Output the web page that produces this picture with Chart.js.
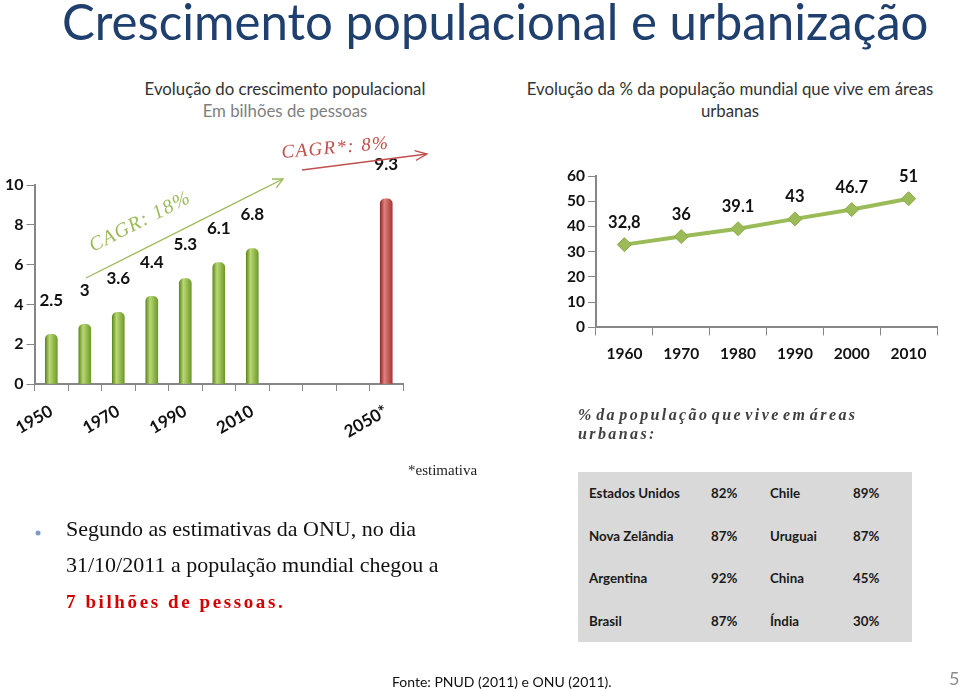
<!DOCTYPE html>
<html>
<head>
<meta charset="utf-8">
<script src="https://cdn.jsdelivr.net/npm/chart.js@4.4.1/dist/chart.umd.min.js"></script>
<style>
    body { margin: 0; width: 960px; height: 689px; background: #fff; position: relative; overflow: hidden; font-family: Lato, "Open Sans", sans-serif; }
    .abs { position: absolute; white-space: nowrap; }
    #title { left: 62px; top: -9px; font-size: 50px; color: #1f3f6e; transform-origin: 0 0; }
    .sub { font-size: 16.8px; color: #333; text-align: center; line-height: 22px; }
    .serif { font-family: "Liberation Serif", "Times New Roman", serif; }
    #urbNote { left: 578px; top: 405px; font-size: 16px; font-weight: bold; font-style: italic; letter-spacing: 2.4px; word-spacing: -4px; color: #404040; line-height: 19px; }
    #tbl { left: 578px; top: 472px; width: 334px; height: 170px; background: #d9d9d9; border-collapse: collapse; font-size: 13.3px; font-weight: bold; color: #1a1a1a; }
    #tbl td { padding: 0; height: 42.5px; }
    #bullet { left: 66px; top: 511px; font-size: 22px; line-height: 36px; color: #111; }
    #bullet b { color: #d40000; letter-spacing: 2.6px; font-size: 19px; }
    canvas { position: absolute; }
</style>
</head>
<body>
<div id="title" class="abs">Crescimento populacional e urbanização</div>

<div class="abs sub" style="left:110px; top:78px; width:350px;">Evolução do crescimento populacional<br><span style="color:#7f7f7f">Em bilhões de pessoas</span></div>
<div class="abs sub" style="left:505px; top:78px; width:450px;">Evolução da % da população mundial que vive em áreas<br>urbanas</div>

<canvas id="popChart" width="430" height="310" style="left:0; top:150px;"></canvas>
<canvas id="urbChart" width="420" height="215" style="left:530px; top:160px;"></canvas>

<svg class="abs" style="left:0; top:0;" width="960" height="689">
    <defs>
        <marker id="arrG" markerWidth="12" markerHeight="12" refX="10" refY="6" orient="auto" markerUnits="userSpaceOnUse">
            <path d="M0,1 L10,6 L0,11" fill="none" stroke="#9bbb59" stroke-width="1.3"/>
        </marker>
        <marker id="arrR" markerWidth="14" markerHeight="12" refX="12" refY="6" orient="auto" markerUnits="userSpaceOnUse">
            <path d="M0,1 L12,6 L0,11" fill="none" stroke="#c0504d" stroke-width="1.3"/>
        </marker>
    </defs>
    <line x1="86" y1="278" x2="283" y2="179" stroke="#9bbb59" stroke-width="1.3" marker-end="url(#arrG)"/>
    <line x1="302" y1="170" x2="427" y2="154" stroke="#c0504d" stroke-width="1.3" marker-end="url(#arrR)"/>
    <text x="93" y="252" transform="rotate(-27 93 252)" font-family="Liberation Serif" font-style="italic" font-size="20" letter-spacing="1.2" fill="#9bbb59">CAGR: 18%</text>
    <text x="282" y="158" transform="rotate(-5 282 158)" font-family="Liberation Serif" font-style="italic" font-size="19" letter-spacing="1.4" fill="#c0504d">CAGR*: 8%</text>
    <circle cx="38" cy="533" r="2.5" fill="#7a9cc6"/>
</svg>

<div class="abs serif" style="left:408px; top:462px; font-size:15px; color:#222;">*estimativa</div>
<div id="urbNote" class="abs serif">% da população que vive em áreas<br>urbanas:</div>

<table id="tbl" class="abs"></table>

<div id="bullet" class="abs serif">Segundo as estimativas da ONU, no dia<br>31/10/2011 a população mundial chegou a<br><b>7 bilhões de pessoas.</b></div>

<div class="abs" style="left:392px; top:673px; font-size:14px; color:#111;">Fonte: PNUD (2011) e ONU (2011).</div>
<div class="abs" style="left:949px; top:667px; font-size:18px; color:#8c8c8c;">5</div>

<script>
// population, billions
var popYears = ['1950', '1960', '1970', '1980', '1990', '2000', '2010', '2020', '2030', '2040', '2050*'];
var popValues = [2.5, 3, 3.6, 4.4, 5.3, 6.1, 6.8, null, null, null, 9.3];
var popTickLabels = ['1950', '', '1970', '', '1990', '', '2010', '', '', '', '2050*'];
var popYTicks = [0, 2, 4, 6, 8, 10];

// urban share, %
var urbYears = ['1960', '1970', '1980', '1990', '2000', '2010'];
var urbValues = [32.8, 36, 39.1, 43, 46.7, 51];
var urbLabels = ['32,8', '36', '39.1', '43', '46.7', '51'];
var urbYTicks = [0, 10, 20, 30, 40, 50, 60];

// table
var tblLeftCountries = ['Estados Unidos', 'Nova Zelândia', 'Argentina', 'Brasil'];
var tblLeftValues = ['82%', '87%', '92%', '87%'];
var tblRightCountries = ['Chile', 'Uruguai', 'China', 'Índia'];
var tblRightValues = ['89%', '87%', '45%', '30%'];

document.addEventListener('DOMContentLoaded', function () {
    // fit title width like the slide
    var title = document.getElementById('title');
    title.style.transform = 'scaleX(' + (866 / title.offsetWidth) + ')';

    var tbl = document.getElementById('tbl');
    for (var i = 0; i < tblLeftCountries.length; i++) {
        var tr = document.createElement('tr');
        tr.innerHTML = '<td style="padding-left:11px;width:122px">' + tblLeftCountries[i] + '</td>' +
            '<td style="width:59px">' + tblLeftValues[i] + '</td>' +
            '<td style="width:83px">' + tblRightCountries[i] + '</td>' +
            '<td>' + tblRightValues[i] + '</td>';
        tbl.appendChild(tr);
    }

    var axisGray = '#868686';

    // draws value labels above bars / points
    function valueLabels(texts, offset, size) {
        return {
            id: 'valueLabels',
            afterDatasetsDraw: function (chart) {
                var ctx = chart.ctx;
                var meta = chart.getDatasetMeta(0);
                ctx.save();
                ctx.font = 'bold ' + size + 'px Lato';
                ctx.fillStyle = '#111';
                ctx.textAlign = 'center';
                ctx.textBaseline = 'middle';
                meta.data.forEach(function (el, i) {
                    var v = chart.data.datasets[0].data[i];
                    if (v === null) return;
                    ctx.fillText(texts[i], el.x, el.y - offset);
                });
                ctx.restore();
            }
        };
    }

    function barFill(context) {
        var chart = context.chart;
        var i = context.dataIndex;
        var est = popYears[i].indexOf('*') >= 0;
        if (!chart.chartArea) return est ? '#c0504d' : '#8cb33c';
        var x = chart.scales.x.getPixelForValue(i);
        var g = chart.ctx.createLinearGradient(x - 6, 0, x + 6, 0);
        if (est) {
            g.addColorStop(0, '#8e2b28');
            g.addColorStop(0.35, '#e0807c');
            g.addColorStop(1, '#a33a37');
        } else {
            g.addColorStop(0, '#5f8a1e');
            g.addColorStop(0.35, '#b9d874');
            g.addColorStop(1, '#6f9a2a');
        }
        return g;
    }

    var popLabelText = popValues.map(function (v) { return v === null ? '' : String(v); });

    new Chart(document.getElementById('popChart'), {
        type: 'bar',
        data: {
            labels: popYears,
            datasets: [{
                data: popValues,
                backgroundColor: barFill,
                barThickness: 12,
                borderRadius: { topLeft: 5, topRight: 5 },
                borderSkipped: 'bottom'
            }]
        },
        options: {
            responsive: false,
            animation: false,
            devicePixelRatio: 1,
            layout: { padding: { left: 2, right: 27, top: 35, bottom: 8 } },
            plugins: { legend: { display: false }, tooltip: { enabled: false } },
            scales: {
                x: {
                    grid: { drawOnChartArea: false, color: axisGray, tickLength: 7, offset: true },
                    border: { color: axisGray, width: 2 },
                    ticks: {
                        autoSkip: false,
                        minRotation: 30,
                        maxRotation: 30,
                        padding: 10,
                        color: '#111',
                        font: { family: 'Lato', weight: 'bold', size: 17 },
                        callback: function (val, index) { return popTickLabels[index]; }
                    }
                },
                y: {
                    min: popYTicks[0],
                    max: popYTicks[popYTicks.length - 1],
                    grid: { drawOnChartArea: false, color: axisGray, tickLength: 8 },
                    border: { color: axisGray, width: 2 },
                    ticks: {
                        stepSize: popYTicks[1] - popYTicks[0],
                        color: '#111',
                        font: { family: 'Lato', weight: 'bold', size: 16 }
                    }
                }
            }
        },
        plugins: [valueLabels(popLabelText, 34, 17)]
    });

    new Chart(document.getElementById('urbChart'), {
        type: 'line',
        data: {
            labels: urbYears,
            datasets: [{
                data: urbValues,
                borderColor: '#9bbb59',
                borderWidth: 4,
                backgroundColor: '#9bbb59',
                pointStyle: 'rectRot',
                pointRadius: 7,
                pointBorderColor: '#8aab48',
                pointBorderWidth: 1,
                tension: 0
            }]
        },
        options: {
            responsive: false,
            animation: false,
            devicePixelRatio: 1,
            layout: { padding: { left: 34, right: 13, top: 16, bottom: 3 } },
            plugins: { legend: { display: false }, tooltip: { enabled: false } },
            scales: {
                x: {
                    offset: true,
                    grid: { drawOnChartArea: false, color: axisGray, tickLength: 8, offset: true },
                    border: { color: axisGray, width: 2 },
                    ticks: {
                        padding: 9,
                        color: '#111',
                        font: { family: 'Lato', weight: 'bold', size: 15.5 }
                    }
                },
                y: {
                    min: urbYTicks[0],
                    max: urbYTicks[urbYTicks.length - 1],
                    grid: { drawOnChartArea: false, color: axisGray, tickLength: 8 },
                    border: { color: axisGray, width: 2 },
                    ticks: {
                        stepSize: urbYTicks[1] - urbYTicks[0],
                        color: '#111',
                        font: { family: 'Lato', weight: 'bold', size: 15.5 }
                    }
                }
            }
        },
        plugins: [valueLabels(urbLabels, 22, 16.5)]
    });
});
</script>
</body>
</html>
